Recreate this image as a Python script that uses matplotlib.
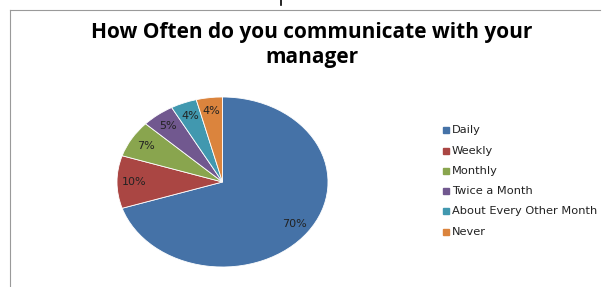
import matplotlib
matplotlib.use("Agg")
import matplotlib.pyplot as plt
from matplotlib.patches import Rectangle
from matplotlib.lines import Line2D

categories = ["Daily", "Weekly", "Monthly", "Twice a Month", "About Every Other Month", "Never"]
values = [70, 10, 7, 5, 4, 4]
colors = ["#4572A7", "#AA4643", "#89A54E", "#71588F", "#4198AF", "#DB843D"]
title = "How Often do you communicate with your\nmanager"

W, H = 602, 287
fig = plt.figure(figsize=(W / 100, H / 100), dpi=100)
fig.patch.set_facecolor("white")

def fx(px):
    return px / W

def fy(py):
    return 1 - py / H

# chart frame
fig.add_artist(Line2D([fx(10), fx(10)], [fy(10), fy(287)], color="#9a9a9a", lw=0.8))
fig.add_artist(Line2D([fx(10), fx(600)], [fy(10), fy(10)], color="#9a9a9a", lw=0.8))
fig.add_artist(Line2D([fx(281), fx(281)], [fy(0), fy(5)], color="black", lw=1.2))

fig.text(fx(312), fy(45), title, ha="center", va="center", fontsize=15,
         fontweight="bold", family="Open Sans", linespacing=1.25)

# pie (elliptical)
ax = fig.add_axes([fx(117), fy(267), fx(328) - fx(117), (267 - 97) / H])
wedges, texts, autotexts = ax.pie(
    values, colors=colors, startangle=90, counterclock=False,
    autopct=lambda p: f"{p:.0f}%", pctdistance=0.84,
    wedgeprops=dict(edgecolor="white", linewidth=0.6),
    textprops=dict(fontsize=8, color="#222222", family="DejaVu Sans"))
ax.set_aspect("auto")
ax.set_xlim(-1, 1)
ax.set_ylim(-1, 1)
ax.axis("off")

# legend
rows = [130, 151, 171, 191, 211, 232]
for cat, col, y in zip(categories, colors, rows):
    fig.add_artist(Rectangle((fx(443), fy(y + 3)), 6 / W, 6 / H, color=col,
                             transform=fig.transFigure))
    fig.text(fx(452), fy(y), cat, ha="left", va="center", fontsize=8.2,
             family="DejaVu Sans", color="#222222")

fig.savefig("out.png", dpi=100)
